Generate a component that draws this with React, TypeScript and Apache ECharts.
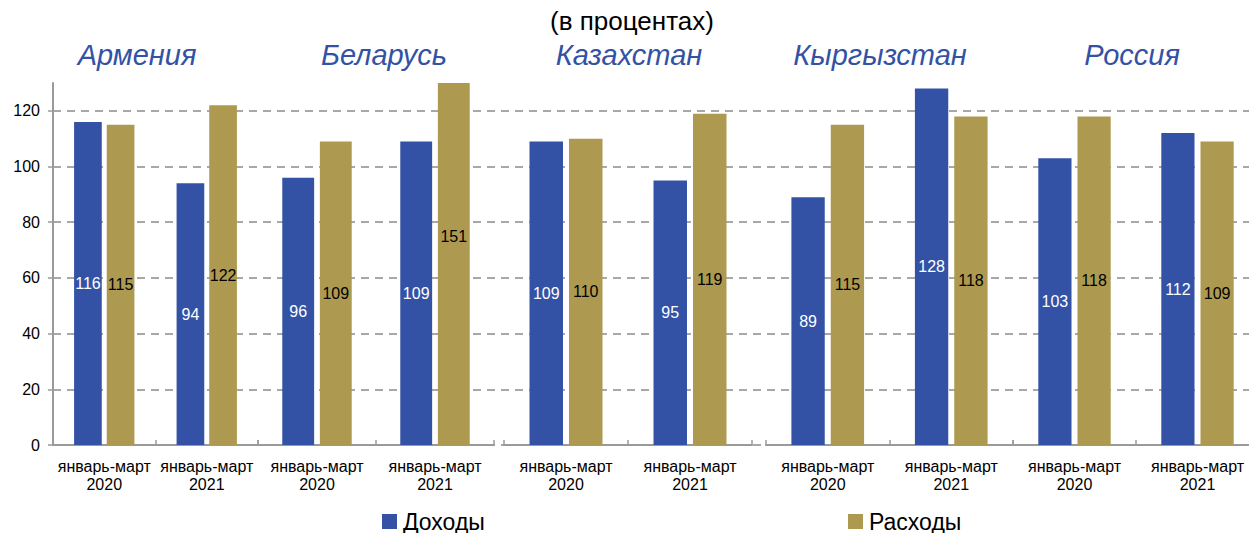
import React, { useEffect, useRef } from "react";
import * as echarts from "echarts";

const countries = ["Армения", "Беларусь", "Казахстан", "Кыргызстан", "Россия"];
const periods = ["январь-март\n2020", "январь-март\n2021"];
const incomeValues = [
  [116, 94],
  [96, 109],
  [109, 95],
  [89, 128],
  [103, 112],
];
const expenseValues = [
  [115, 122],
  [109, 151],
  [110, 119],
  [115, 118],
  [118, 109],
];
const yTicks = [0, 20, 40, 60, 80, 100, 120];
const subtitle = "(в процентах)";
const seriesNames = ["Доходы", "Расходы"];

// layout (pixels)
const gridBoxes = [
  { left: 53, width: 205 },
  { left: 258, width: 236 },
  { left: 504, width: 248 },
  { left: 766, width: 247 },
  { left: 1013, width: 246 },
];
const titleCenters = [137, 384, 629, 880, 1132];

const FONT = "'Liberation Sans', Arial, sans-serif";
const BLUE = "#3352a5";
const GOLD = "#ad9a50";
const AXIS = "#9a9a9a";
const TOP = 83;
const BOTTOM = 88;

export default function App() {
  const ref = useRef<HTMLDivElement>(null);
  useEffect(() => {
    document.body.style.margin = "0";
    if (!ref.current) return;
    const chart = echarts.init(ref.current, null, { renderer: "svg" });

    const grids: any[] = [
      { left: 53, right: 0, top: TOP, bottom: BOTTOM, outerBoundsMode: "none", containLabel: false },
      ...gridBoxes.map((g) => ({
        left: g.left,
        width: g.width,
        top: TOP,
        bottom: BOTTOM,
        outerBoundsMode: "none",
        containLabel: false,
      })),
    ];

    const xAxes: any[] = [
      { gridIndex: 0, type: "category", data: ["a"], show: false },
      ...gridBoxes.map((_, i) => ({
        gridIndex: i + 1,
        type: "category",
        data: periods,
        axisLine: { show: true, lineStyle: { color: AXIS, width: 2 } },
        axisTick: { show: true, inside: true, length: 5, lineStyle: { color: AXIS, width: 1.5 } },
        axisLabel: {
          interval: 0,
          fontSize: 16,
          lineHeight: 18,
          color: "#000",
          fontFamily: FONT,
          margin: 12,
        },
        splitLine: { show: false },
      })),
    ];

    const splitColors = [...yTicks.map(() => "#8c8c8c"), "rgba(0,0,0,0)"];

    const yAxes: any[] = [
      {
        gridIndex: 0,
        type: "value",
        min: 0,
        max: 130,
        interval: 20,
        axisLine: { show: true, lineStyle: { color: AXIS, width: 2 } },
        axisTick: { show: true, length: 5, customValues: yTicks, lineStyle: { color: AXIS, width: 1.5 } },
        axisLabel: {
          customValues: yTicks,
          fontSize: 16,
          color: "#000",
          fontFamily: FONT,
          margin: 13,
        },
        splitLine: {
          show: true,
          lineStyle: { color: splitColors, width: 1.5, type: [8, 6] },
        },
      },
      ...gridBoxes.map((_, i) => ({
        gridIndex: i + 1,
        type: "value",
        min: 0,
        max: 130,
        interval: 20,
        show: false,
        splitLine: { show: false },
      })),
    ];

    const series: any[] = [];
    gridBoxes.forEach((_, i) => {
      const labelBase = {
        show: true,
        position: "inside",
        fontSize: 16,
        fontFamily: FONT,
      };
      series.push({
        name: seriesNames[0],
        type: "bar",
        xAxisIndex: i + 1,
        yAxisIndex: i + 1,
        barWidth: "27%",
        barGap: "18%",
        itemStyle: { color: BLUE },
        label: { ...labelBase, color: "#fff" },
        data: incomeValues[i],
      });
      series.push({
        name: seriesNames[1],
        type: "bar",
        xAxisIndex: i + 1,
        yAxisIndex: i + 1,
        barWidth: "27%",
        barGap: "18%",
        itemStyle: { color: GOLD },
        label: { ...labelBase, color: "#000" },
        data: expenseValues[i].map((v) =>
          v > 130 ? { value: v, label: { offset: [0, -28] } } : v
        ),
      });
    });

    const titles: any[] = [
      {
        text: subtitle,
        left: 632,
        top: 8,
        textAlign: "center",
        padding: 0,
        textStyle: { fontSize: 26, fontWeight: "normal", color: "#000", fontFamily: FONT },
      },
      ...countries.map((c, i) => ({
        text: c,
        left: titleCenters[i],
        top: 40,
        textAlign: "center",
        padding: 0,
        textStyle: {
          fontSize: 29,
          fontWeight: "normal",
          fontStyle: "italic",
          color: BLUE,
          fontFamily: FONT,
        },
      })),
    ];

    const legendBase = {
      top: 510,
      itemWidth: 15,
      itemHeight: 15,
      itemGap: 6,
      padding: 0,
      icon: "rect",
      textStyle: {
        fontSize: 23,
        lineHeight: 22,
        color: "#000",
        fontFamily: FONT,
        padding: [0, 0, 0, 1],
      },
    };

    chart.setOption({
      animation: false,
      title: titles,
      legend: [
        { ...legendBase, left: 382, data: [seriesNames[0]] },
        { ...legendBase, left: 848, data: [seriesNames[1]] },
      ],
      grid: grids,
      xAxis: xAxes,
      yAxis: yAxes,
      series,
    });
    return () => chart.dispose();
  }, []);
  return <div ref={ref} style={{ width: 1249, height: 533 }} />;
}
